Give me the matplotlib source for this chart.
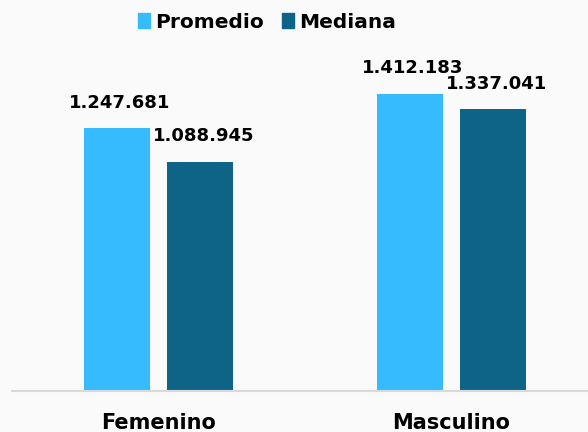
import numpy as np
import matplotlib as mpl
mpl.use('Agg')
import matplotlib.pyplot as plt
from matplotlib.patches import Patch

categories = ['Femenino', 'Masculino']
series = ['Promedio', 'Mediana']
promedio = [1247681, 1412183]
mediana = [1088945, 1337041]
colors = ['#36BCFE', '#0E6486']

plt.rcParams['font.family'] = ['DejaVu Sans']
plt.rcParams['font.weight'] = 'bold'

fig = plt.figure(figsize=(5.88, 4.32), dpi=100, facecolor='#FAFAFA')
ax = fig.add_axes([12 / 588, 41 / 432, 586 / 588, 337 / 432])
ax.set_facecolor('#FAFAFA')

x = np.arange(len(categories))
w = 0.225
off = 0.143

def fmt(v):
    return f'{v:,}'.replace(',', '.')

for vals, dx, c in [(promedio, -off, colors[0]), (mediana, off, colors[1])]:
    bars = ax.bar(x + dx, vals, width=w, color=c)
    for b, v in zip(bars, vals):
        ax.annotate(fmt(v), (b.get_x() + b.get_width() / 2 + 0.01, v),
                    xytext=(0, 12), textcoords='offset points',
                    ha='center', va='bottom', fontsize=13, fontweight='bold')

ax.set_xlim(-0.5, 1.5)
ax.set_ylim(0, 1.6e6)
ax.set_yticks([])
ax.set_xticks(x)
ax.set_xticklabels(categories, fontsize=15, fontweight='bold')
ax.tick_params(axis='x', length=0, pad=16)
for s in ['top', 'right', 'left']:
    ax.spines[s].set_visible(False)
ax.spines['bottom'].set_color('#D9D9D9')
ax.spines['bottom'].set_linewidth(1.5)

handles = [Patch(color=c, label=s) for c, s in zip(colors, series)]
fig.legend(handles=handles, loc='center', bbox_to_anchor=(0.454, 1 - 22 / 432),
           ncol=2, frameon=False, handlelength=0.6,
           handleheight=0.75, handletextpad=0.25, columnspacing=0.9,
           prop={'weight': 'bold', 'size': 14.5})

fig.savefig('out.png', dpi=100, facecolor=fig.get_facecolor())
